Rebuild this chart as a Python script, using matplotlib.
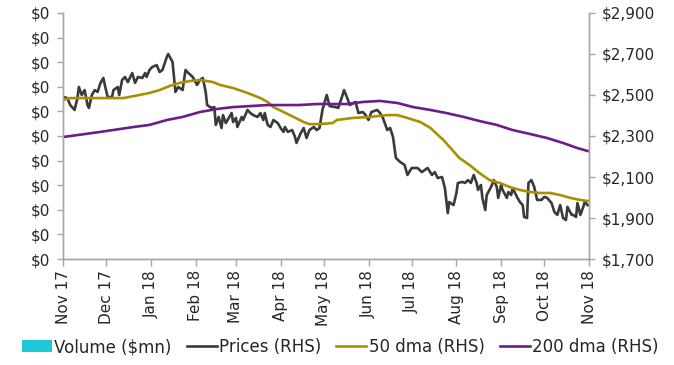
import matplotlib
matplotlib.use("Agg")
import matplotlib.pyplot as plt
import matplotlib.dates as mdates
from matplotlib.ticker import FuncFormatter, MultipleLocator
import pandas as pd

# daily prices (RHS, $)
price_dates = [
    "2017-11-01", "2017-11-04", "2017-11-06", "2017-11-09", "2017-11-11", "2017-11-12",
    "2017-11-14", "2017-11-16", "2017-11-18", "2017-11-19", "2017-11-21", "2017-11-23",
    "2017-11-25", "2017-11-27", "2017-11-29", "2017-11-30", "2017-12-02", "2017-12-05",
    "2017-12-06", "2017-12-09", "2017-12-10", "2017-12-12", "2017-12-14", "2017-12-16",
    "2017-12-19", "2017-12-21", "2017-12-23", "2017-12-26", "2017-12-28", "2017-12-29",
    "2017-12-31", "2018-01-02", "2018-01-05", "2018-01-07", "2018-01-09", "2018-01-12",
    "2018-01-13", "2018-01-16", "2018-01-18", "2018-01-20", "2018-01-23", "2018-01-25",
    "2018-01-27", "2018-01-30", "2018-02-02", "2018-02-04", "2018-02-06", "2018-02-08",
    "2018-02-09", "2018-02-12", "2018-02-14", "2018-02-15", "2018-02-17", "2018-02-19",
    "2018-02-20", "2018-02-22", "2018-02-24", "2018-02-26", "2018-02-27", "2018-03-01",
    "2018-03-02", "2018-03-05", "2018-03-06", "2018-03-09", "2018-03-11", "2018-03-13",
    "2018-03-16", "2018-03-18", "2018-03-20", "2018-03-21", "2018-03-23", "2018-03-25",
    "2018-03-27", "2018-03-30", "2018-04-01", "2018-04-03", "2018-04-04", "2018-04-06",
    "2018-04-09", "2018-04-11", "2018-04-12", "2018-04-15", "2018-04-17", "2018-04-19",
    "2018-04-21", "2018-04-24", "2018-04-26", "2018-04-28", "2018-04-30", "2018-05-02",
    "2018-05-03", "2018-05-05", "2018-05-09", "2018-05-11", "2018-05-14", "2018-05-15",
    "2018-05-17", "2018-05-19", "2018-05-23", "2018-05-25", "2018-05-28", "2018-05-30",
    "2018-06-01", "2018-06-03", "2018-06-07", "2018-06-09", "2018-06-11", "2018-06-14",
    "2018-06-16", "2018-06-18", "2018-06-20", "2018-06-23", "2018-06-26", "2018-06-28",
    "2018-07-01", "2018-07-05", "2018-07-08", "2018-07-12", "2018-07-15", "2018-07-17",
    "2018-07-19", "2018-07-22", "2018-07-24", "2018-07-26", "2018-07-27", "2018-07-30",
    "2018-08-01", "2018-08-02", "2018-08-05", "2018-08-07", "2018-08-09", "2018-08-11",
    "2018-08-13", "2018-08-15", "2018-08-16", "2018-08-18", "2018-08-19", "2018-08-21",
    "2018-08-22", "2018-08-25", "2018-08-27", "2018-08-29", "2018-08-30", "2018-09-01",
    "2018-09-02", "2018-09-05", "2018-09-06", "2018-09-08", "2018-09-09", "2018-09-12",
    "2018-09-14", "2018-09-16", "2018-09-17", "2018-09-19", "2018-09-20", "2018-09-22",
    "2018-09-24", "2018-09-26", "2018-09-29", "2018-10-01", "2018-10-03", "2018-10-06",
    "2018-10-08", "2018-10-10", "2018-10-12", "2018-10-14", "2018-10-16", "2018-10-17",
    "2018-10-20", "2018-10-21", "2018-10-23", "2018-10-24", "2018-10-26", "2018-10-28",
    "2018-10-29", "2018-10-31",
]
prices = [
    2490, 2485, 2451, 2427, 2485, 2539,
    2500, 2524, 2451, 2437, 2500, 2524,
    2515, 2559, 2583, 2549, 2490, 2490,
    2524, 2539, 2500, 2573, 2588, 2563,
    2607, 2559, 2588, 2583, 2607, 2588,
    2622, 2637, 2646, 2612, 2622, 2685,
    2700, 2661, 2515, 2539, 2524, 2622,
    2607, 2588, 2549, 2573, 2583, 2515,
    2451, 2437, 2441, 2354, 2393, 2339,
    2402, 2363, 2388, 2412, 2368, 2388,
    2344, 2393, 2378, 2427, 2412, 2402,
    2393, 2412, 2378, 2412, 2354, 2344,
    2378, 2363, 2339, 2320, 2344, 2320,
    2329, 2295, 2266, 2315, 2339, 2290,
    2329, 2344, 2329, 2339, 2427, 2476,
    2500, 2446, 2441, 2437, 2500, 2524,
    2490, 2451, 2466, 2412, 2417, 2402,
    2378, 2417, 2427, 2412, 2388, 2329,
    2339, 2295, 2193, 2173, 2159, 2110,
    2144, 2144, 2124, 2144, 2110, 2124,
    2095, 2100, 2046, 1924, 1978, 1963,
    2022, 2071, 2076, 2071, 2085, 2071,
    2110, 2071, 2037, 2061, 1998, 1939,
    2012, 2051, 2085, 2051, 1998, 2061,
    2037, 1998, 2027, 2012, 2046, 2003,
    1978, 1963, 1905, 1900, 2071, 2085,
    2051, 1988, 1988, 2003, 1998, 1973,
    1929, 1915, 1963, 1900, 1890, 1954,
    1915, 1915, 1905, 1973, 1915, 1954,
    1978, 1963,
]

# 50 day moving average (RHS, $)
dma50_dates = [
    "2017-11-01", "2017-11-06", "2017-11-13", "2017-11-27", "2017-12-13", "2017-12-24",
    "2017-12-31", "2018-01-07", "2018-01-14", "2018-01-21", "2018-01-28", "2018-02-04",
    "2018-02-09", "2018-02-13", "2018-02-18", "2018-02-27", "2018-03-09", "2018-03-18",
    "2018-03-23", "2018-03-27", "2018-04-03", "2018-04-10", "2018-04-17", "2018-04-21",
    "2018-04-28", "2018-05-07", "2018-05-10", "2018-05-21", "2018-06-02", "2018-06-14",
    "2018-06-21", "2018-06-28", "2018-07-07", "2018-07-14", "2018-07-23", "2018-07-28",
    "2018-08-03", "2018-08-10", "2018-08-17", "2018-08-24", "2018-08-31", "2018-09-07",
    "2018-09-14", "2018-09-21", "2018-09-28", "2018-10-05", "2018-10-12", "2018-10-19",
    "2018-10-26", "2018-10-31",
]
dma50 = [
    2476, 2485, 2485, 2485, 2485, 2500,
    2510, 2524, 2544, 2559, 2568, 2573,
    2568, 2563, 2549, 2534, 2510, 2485,
    2466, 2441, 2417, 2393, 2368, 2358,
    2358, 2363, 2378, 2388, 2393, 2402,
    2402, 2388, 2368, 2339, 2280, 2241,
    2193, 2159, 2119, 2085, 2071, 2051,
    2037, 2027, 2022, 2022, 2012, 1998,
    1988, 1983,
]

# 200 day moving average (RHS, $)
dma200_dates = [
    "2017-11-01", "2017-11-27", "2017-12-20", "2017-12-31", "2018-01-12", "2018-01-23",
    "2018-02-04", "2018-02-16", "2018-02-27", "2018-03-11", "2018-03-23", "2018-04-03",
    "2018-04-14", "2018-04-26", "2018-05-07", "2018-05-17", "2018-05-28", "2018-06-09",
    "2018-06-21", "2018-07-02", "2018-07-14", "2018-07-25", "2018-08-06", "2018-08-17",
    "2018-08-29", "2018-09-09", "2018-09-21", "2018-10-03", "2018-10-14", "2018-10-24",
    "2018-10-31",
]
dma200 = [
    2295, 2320, 2344, 2354, 2378, 2393,
    2417, 2432, 2441, 2446, 2451, 2451,
    2451, 2456, 2456, 2456, 2466, 2471,
    2461, 2441, 2427, 2412, 2393, 2373,
    2354, 2329, 2310, 2290, 2266, 2241,
    2227,
]

# volume ($mn), LHS - nothing visible on the chart
volume = [0] * len(price_dates)

month_ticks = pd.date_range("2017-11-01", "2018-11-01", freq="MS")

plt.rcParams["font.family"] = "DejaVu Sans"
grey = "#A6A6A6"
txt = "#262626"

fig = plt.figure(figsize=(6.74, 3.65), dpi=100)
ax = fig.add_axes([0.0935, 0.2904, 0.7804, 0.674])
ax2 = ax.twinx()

pdates = pd.to_datetime(price_dates)
ax.bar(pdates, volume, width=1.0, color="#1FC8D6", label="Volume ($mn)")
ax2.plot(pdates, prices, color="#3A3A3A", lw=1.9, label="Prices (RHS)")
ax2.plot(pd.to_datetime(dma50_dates), dma50, color="#A89000", lw=1.9, label="50 dma (RHS)")
ax2.plot(pd.to_datetime(dma200_dates), dma200, color="#6B1E88", lw=1.9, label="200 dma (RHS)")

ax.set_xlim(month_ticks[0], month_ticks[-1])
ax.set_ylim(0, 0.001)
ax.yaxis.set_major_locator(MultipleLocator(0.0001))
ax.yaxis.set_major_formatter(FuncFormatter(lambda v, p: "${:,.0f}".format(v)))
ax2.set_ylim(1700, 2900)
ax2.set_yticks(range(1700, 2901, 200))
ax2.yaxis.set_major_formatter(FuncFormatter(lambda v, p: "${:,.0f}".format(v)))

ax.set_xticks(month_ticks)
ax.xaxis.set_major_formatter(mdates.DateFormatter("%b %y"))
for lab in ax.get_xticklabels():
    lab.set_rotation(90)

for a in (ax, ax2):
    a.spines["top"].set_visible(False)
    for s in ("left", "right", "bottom"):
        a.spines[s].set_color(grey)
        a.spines[s].set_linewidth(1.0)
    a.tick_params(colors=grey, labelcolor=txt, labelsize=11, length=4, width=1)
ax.tick_params(axis="x", length=5, pad=3)
ax.tick_params(axis="y", pad=5)
ax2.tick_params(axis="y", pad=5)

h1, l1 = ax.get_legend_handles_labels()
h2, l2 = ax2.get_legend_handles_labels()
fig.legend(h1 + h2, l1 + l2, loc="center", bbox_to_anchor=(0.505, 0.049), ncol=4,
           frameon=False, fontsize=12, handlelength=1.8, handletextpad=0.15,
           columnspacing=0.9, labelcolor=txt)

fig.savefig("out.png", dpi=100)
